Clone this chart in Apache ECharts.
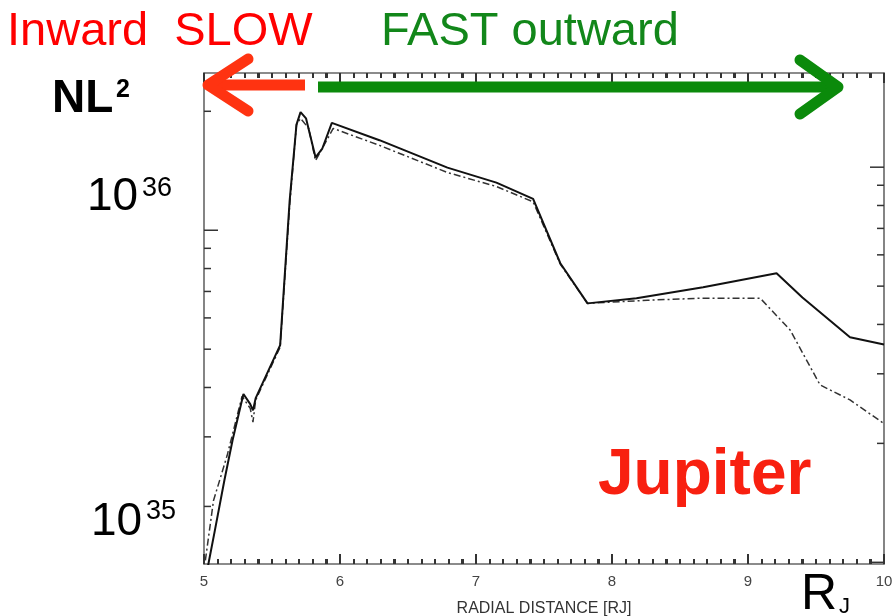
<!DOCTYPE html>
<html><head><meta charset="utf-8">
<style>html,body{margin:0;padding:0;background:#fff}#c{width:895px;height:616px}</style>
<script src="https://cdn.jsdelivr.net/npm/echarts@6/dist/echarts.min.js"></script>
</head><body><div id="c"></div>
<script>
// ---- data ----
const xTickLabels = ['5', '6', '7', '8', '9', '10'];
const xMin = 5, xMax = 10;
const yMin = 1.43e35, yMax = 2.5e36;

const solidX = [5.02, 5.08, 5.15, 5.21, 5.29, 5.34, 5.36, 5.38, 5.56, 5.63, 5.68, 5.71, 5.75, 5.82, 5.87, 5.94, 6.29, 6.79, 7.15, 7.42, 7.62, 7.82, 8.18, 8.67, 9.21, 9.40, 9.75, 10.0];
const solidY = [1.36e35, 1.74e35, 2.33e35, 2.94e35, 3.85e35, 3.63e35, 3.50e35, 3.76e35, 5.12e35, 1.19e36, 1.85e36, 1.99e36, 1.92e36, 1.53e36, 1.61e36, 1.87e36, 1.69e36, 1.44e36, 1.32e36, 1.20e36, 8.25e35, 6.53e35, 6.73e35, 7.17e35, 7.78e35, 6.76e35, 5.36e35, 5.14e35];

const dashX = [5.01, 5.07, 5.17, 5.28, 5.34, 5.36, 5.38, 5.56, 5.63, 5.68, 5.71, 5.77, 5.82, 5.95, 6.29, 6.79, 7.15, 7.42, 7.62, 7.82, 8.26, 8.65, 9.09, 9.31, 9.53, 9.75, 10.0];
const dashY = [1.46e35, 2.07e35, 2.69e35, 3.80e35, 3.54e35, 3.27e35, 3.72e35, 5.06e35, 1.16e36, 1.85e36, 1.92e36, 1.81e36, 1.50e36, 1.81e36, 1.64e36, 1.40e36, 1.29e36, 1.18e36, 8.2e35, 6.53e35, 6.65e35, 6.73e35, 6.73e35, 5.59e35, 4.06e35, 3.72e35, 3.24e35];

const xMajorTicks = [5, 6, 7, 8, 9, 10];
const leftTicks = [2e35, 3e35, 4e35, 5e35, 6e35, 7e35, 8e35, 9e35, 1e36, 2e36];
const rightTicks = [1e35, 2e35, 3e35, 4e35, 5e35, 6e35, 7e35, 8e35, 9e35, 1e36];
const rightScale = 1.444; // right-hand axis of the original figure is offset

// minor x ticks: tenths between the labelled integers
const xMinorTicks = [];
for (let i = 1; i < 50; i++) if (i % 10) xMinorTicks.push(xMin + i / 10);

// ---- chart ----
const chart = echarts.init(document.getElementById('c'), null, {renderer: 'canvas'});
const isPow10 = v => Math.abs(Math.log10(v) - Math.round(Math.log10(v))) < 1e-6;
const axisCol = '#666';
const tickCol = '#333';

function xAxisCfg(pos, labels) {
  return {
    type: 'value', position: pos, min: xMin, max: xMax, interval: 1,
    axisLine: {show: true, onZero: false, lineStyle: {color: axisCol, width: 1.6}},
    axisTick: {show: true, inside: true, length: 10, lineStyle: {color: tickCol, width: 2}},
    minorTick: {show: true, splitNumber: 10, length: 5, lineStyle: {color: tickCol, width: 2}},
    axisLabel: labels ? {show: true, color: '#444', fontSize: 15, margin: 10,
      fontFamily: 'Liberation Sans',
      formatter: v => xTickLabels[Math.round(v - xMin)]} : {show: false},
    splitLine: {show: false}, minorSplitLine: {show: false},
    name: labels ? 'RADIAL DISTANCE [RJ]' : '',
    nameLocation: 'middle', nameGap: 37,
    nameTextStyle: {color: '#333', fontSize: 16, fontFamily: 'Liberation Sans'}
  };
}
function yAxisCfg(pos, mn, mx) {
  return {
    type: 'log', logBase: 10, position: pos, min: mn, max: mx,
    axisLine: {show: true, lineStyle: {color: axisCol, width: 1.6}},
    axisTick: {show: false}, axisLabel: {show: false},
    splitLine: {show: false}, minorTick: {show: false}
  };
}
// y ticks drawn through the log scale
function yTickSeries(ticks, yIdx, xVal, dir) {
  return {
    type: 'custom', xAxisIndex: 0, yAxisIndex: yIdx, silent: true, z: 4,
    data: ticks.map(v => [xVal, v]),
    renderItem: (params, api) => {
      const v = api.value(1);
      const p = api.coord([api.value(0), v]);
      const len = isPow10(v) ? 14 : 7;
      return {type: 'line', shape: {x1: p[0], y1: p[1], x2: p[0] + dir * len, y2: p[1]},
        style: {stroke: tickCol, lineWidth: 1.5}};
    }
  };
}
// x ticks (bottom: yVal = yMin, pointing up; top: yVal = yMax, pointing down)
function xTickSeries(ticks, yVal, dir, len) {
  return {
    type: 'custom', xAxisIndex: 0, yAxisIndex: 0, silent: true, z: 4,
    data: ticks.map(v => [v, yVal]),
    renderItem: (params, api) => {
      const p = api.coord([api.value(0), api.value(1)]);
      const x = Math.round(p[0]);
      return {type: 'line', shape: {x1: x, y1: p[1], x2: x, y2: p[1] + dir * len},
        style: {stroke: tickCol, lineWidth: 2}};
    }
  };
}

const txt = (text, x, y, font, fill) => ({
  type: 'text', x: x, y: y, z: 100,
  style: {text: text, font: font, fill: fill, textAlign: 'left', textVerticalAlign: 'middle'}
});
const arrowLine = (pts, color, cap) => ({
  type: 'polyline', z: 90, shape: {points: pts},
  style: {stroke: color, lineWidth: 11, lineCap: cap, lineJoin: 'round', fill: null}
});

const red = '#ff3311', green = '#0b8a0b';

chart.setOption({
  animation: false,
  grid: {left: 204, top: 73, right: 11, bottom: 52, containLabel: false, outerBoundsMode: 'none'},
  xAxis: [xAxisCfg('bottom', true), xAxisCfg('top', false)],
  yAxis: [yAxisCfg('left', yMin, yMax), yAxisCfg('right', yMin / rightScale, yMax / rightScale)],
  series: [
    {type: 'line', xAxisIndex: 0, yAxisIndex: 0, showSymbol: false, z: 6,
      data: dashX.map((x, i) => [x, dashY[i]]),
      lineStyle: {color: '#333', width: 1.5, type: [7, 3, 2, 3]}},
    {type: 'line', xAxisIndex: 0, yAxisIndex: 0, showSymbol: false, z: 7,
      data: solidX.map((x, i) => [x, solidY[i]]),
      lineStyle: {color: '#111', width: 2}},
    yTickSeries(leftTicks, 0, xMin, 1),
    yTickSeries(rightTicks, 1, xMax, -1),
    xTickSeries(xMajorTicks, yMin, -1, 10),
    xTickSeries(xMinorTicks, yMin, -1, 5),
    xTickSeries(xMajorTicks, yMax, 1, 9),
    xTickSeries(xMinorTicks, yMax, 1, 5)
  ],
  graphic: [
    txt('Inward  SLOW', 7, 32, '47px "Liberation Sans"', '#ff0000'),
    txt('FAST outward', 381, 32, '47px "Liberation Sans"', '#12871a'),
    txt('NL', 52, 99, 'bold 46px "Liberation Sans"', '#000'),
    txt('2', 116, 90, 'bold 25px "Liberation Sans"', '#000'),
    txt('10', 87, 197, '46px "Liberation Sans"', '#000'),
    txt('36', 142, 189, '27px "Liberation Sans"', '#000'),
    txt('10', 91, 522, '46px "Liberation Sans"', '#000'),
    txt('35', 146, 512, '27px "Liberation Sans"', '#000'),
    txt('Jupiter', 598, 476, 'bold 64px "Liberation Sans"', '#f82010'),
    txt('R', 801, 595, '50px "Liberation Sans"', '#000'),
    txt('J', 839, 607, '22px "Liberation Sans"', '#000'),
    arrowLine([[305, 85], [214, 85]], red, 'butt'),
    arrowLine([[248, 59], [208, 85], [248, 111]], red, 'round'),
    arrowLine([[318, 87], [832, 87]], green, 'butt'),
    arrowLine([[800, 60], [838, 87], [800, 114]], green, 'round')
  ]
});
</script></body></html>
